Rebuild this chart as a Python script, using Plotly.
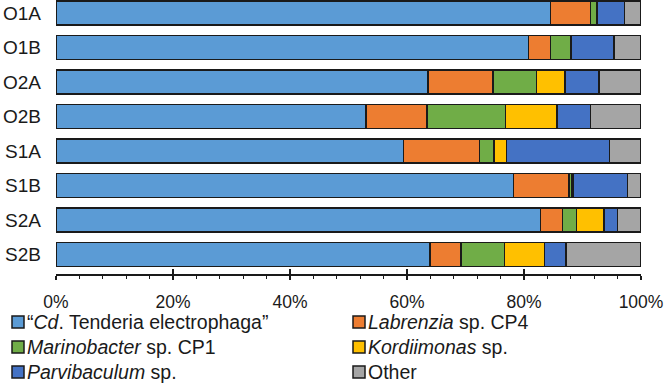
import plotly.graph_objects as go

samples = ["O1A", "O1B", "O2A", "O2B", "S1A", "S1B", "S2A", "S2B"]
tenderia = [84.5, 80.8, 63.6, 53.0, 59.4, 78.2, 82.8, 63.9]
labrenzia = [6.9, 3.7, 11.1, 10.4, 13.0, 9.5, 3.8, 5.3]
marinobacter = [1.1, 3.5, 7.4, 13.4, 2.5, 0.5, 2.4, 7.5]
kordiimonas = [0.0, 0.0, 4.9, 8.8, 2.1, 0.2, 4.7, 6.8]
parvibaculum = [4.7, 7.4, 5.8, 5.8, 17.6, 9.3, 2.3, 3.7]
other = [2.8, 4.6, 7.2, 8.6, 5.4, 2.3, 4.0, 12.8]
tick_vals = [0, 20, 40, 60, 80, 100]
tick_text = ["0%", "20%", "40%", "60%", "80%", "100%"]

series = [
    ("\u201c<i>Cd</i>. Tenderia electrophaga\u201d", tenderia, "#5B9BD5"),
    ("<i>Labrenzia</i> sp. CP4", labrenzia, "#ED7D31"),
    ("<i>Marinobacter</i> sp. CP1", marinobacter, "#70AD47"),
    ("<i>Kordiimonas</i> sp.", kordiimonas, "#FFC000"),
    ("<i>Parvibaculum</i> sp.", parvibaculum, "#4472C4"),
    ("Other", other, "#A5A5A5"),
]

W, H = 666, 386
L, R, T, B = 56, 25, 0, 112
PW, PH = W - L - R, H - T - B
EDGE = "#1a1a1a"


def px_x(px):
    return (px - L) / PW


def px_y(py):
    return (H - B - py) / PH


fig = go.Figure()
for name, vals, col in series:
    fig.add_trace(go.Bar(
        y=samples, x=vals, name=name, orientation="h",
        marker=dict(color=col, line=dict(color=EDGE, width=1.5)),
        showlegend=False,
    ))

# custom two-column legend
shapes = []
annotations = []
col_sq = [12, 353]
row_c = [322, 347, 372]
for i, (name, _vals, col) in enumerate(series):
    r, c = divmod(i, 2)
    x0 = col_sq[c]
    yc = row_c[r]
    shapes.append(dict(
        type="rect", xref="paper", yref="paper",
        x0=px_x(x0), x1=px_x(x0 + 12), y0=px_y(yc + 6), y1=px_y(yc - 6),
        fillcolor=col, line=dict(color=EDGE, width=1.5),
    ))
    annotations.append(dict(
        xref="paper", yref="paper", x=px_x(x0 + 14), y=px_y(yc),
        xanchor="left", yanchor="middle", showarrow=False, text=name,
        font=dict(size=19.5, color=EDGE), borderpad=0,
    ))

font = "Liberation Sans, Arial, sans-serif"
fig.update_layout(
    barmode="stack",
    bargap=0.3,
    width=W, height=H,
    margin=dict(l=L, r=R, t=T, b=B, autoexpand=False),
    paper_bgcolor="white", plot_bgcolor="white",
    font=dict(family=font, size=17, color=EDGE),
    showlegend=False,
    shapes=shapes,
    annotations=annotations,
    xaxis=dict(
        range=[0, 100], tickvals=tick_vals, ticktext=tick_text,
        showline=True, linecolor=EDGE, linewidth=1.5,
        ticks="outside", ticklen=4, tickwidth=1.5, tickcolor=EDGE,
        minor=dict(dtick=4, ticks="outside", ticklen=3, tickcolor=EDGE, tickwidth=1),
        showgrid=False, zeroline=False, automargin=False,
        ticklabelstandoff=7, tickfont=dict(size=17.5),
    ),
    xaxis2=dict(
        range=[0, 100], overlaying="x", anchor="y", side="bottom",
        tickvals=tick_vals, ticks="inside", ticklen=5, tickwidth=1.5,
        tickcolor=EDGE, showticklabels=False, showgrid=False,
        zeroline=False, showline=False, automargin=False,
    ),
    yaxis=dict(
        categoryorder="array", categoryarray=samples,
        range=[7.565, -0.377], showgrid=False, zeroline=False,
        ticks="", ticklabelstandoff=14, automargin=False,
        tickfont=dict(size=19),
    ),
)
fig.add_trace(go.Scatter(x=[None], y=[None], xaxis="x2", yaxis="y",
                         showlegend=False, hoverinfo="skip"))

fig.write_html(
    "out.html",
    config={"displayModeBar": False},
    post_script="document.body.style.margin='0';document.body.style.padding='0';",
)
